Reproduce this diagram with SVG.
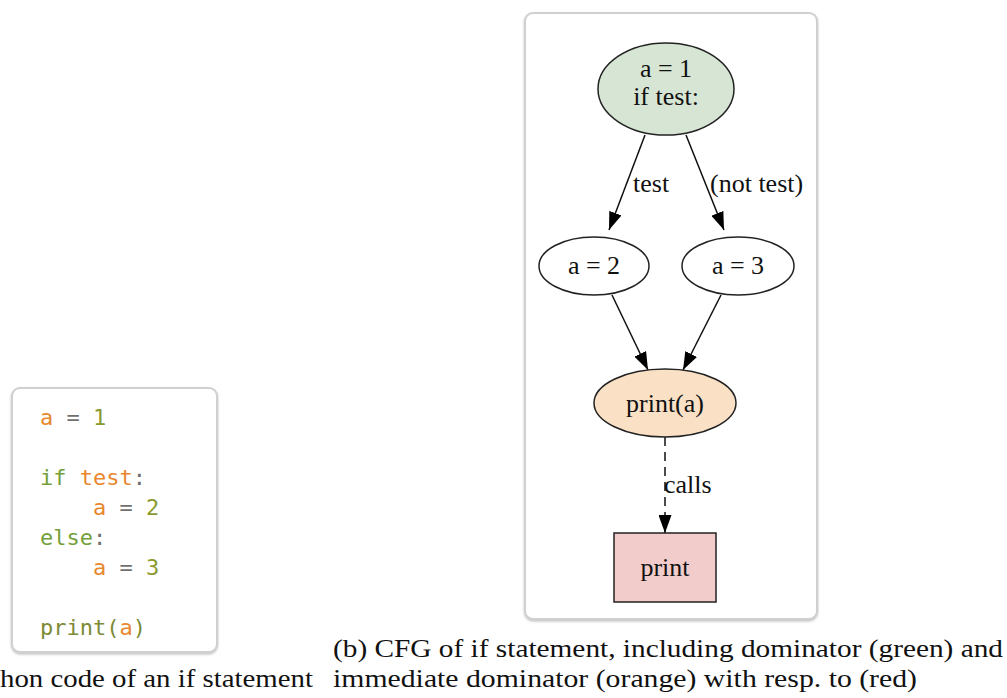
<svg xmlns="http://www.w3.org/2000/svg" width="1007" height="698" viewBox="0 0 1007 698">
<defs>
<style>
.panel{fill:#fff;stroke:#d0d0d0;stroke-width:2}
.code{font-family:"DejaVu Sans Mono",monospace;font-size:22px}
.o{fill:#e8872e}.g{fill:#74a03a}.n{fill:#8b9a2f}.p{fill:#6f6f6f}.f{fill:#7d8a36}
.node{stroke:#222;stroke-width:1.5}
.lbl{font-family:"Liberation Serif",serif;font-size:26px;fill:#111}
.edge{stroke:#111;stroke-width:1.5;fill:none}
.cap{font-family:"Liberation Serif",serif;font-size:25px;fill:#111}
</style>
<marker id="ah" markerWidth="18" markerHeight="13" refX="18" refY="6.5" orient="auto" markerUnits="userSpaceOnUse">
<path d="M0,0 L18,6.5 L0,13 Z" fill="#000"/>
</marker>
<filter id="sh" x="-5%" y="-5%" width="110%" height="110%">
<feDropShadow dx="0" dy="1.5" stdDeviation="1" flood-color="#999" flood-opacity="0.6"/>
</filter>
</defs>
<rect width="1007" height="698" fill="#fff"/>

<g id="code-panel">
<rect class="panel" x="12" y="388" width="205" height="264" rx="8" filter="url(#sh)"/>
<text class="code" x="40" y="425"><tspan class="o">a</tspan><tspan class="p"> = </tspan><tspan class="n">1</tspan></text>
<text class="code" x="40" y="485"><tspan class="g">if</tspan><tspan class="p"> </tspan><tspan class="o">test</tspan><tspan class="p">:</tspan></text>
<text class="code" x="93" y="515"><tspan class="o">a</tspan><tspan class="p"> = </tspan><tspan class="n">2</tspan></text>
<text class="code" x="40" y="545"><tspan class="g">else</tspan><tspan class="p">:</tspan></text>
<text class="code" x="93" y="575"><tspan class="o">a</tspan><tspan class="p"> = </tspan><tspan class="n">3</tspan></text>
<text class="code" x="40" y="635"><tspan class="f">print(</tspan><tspan class="o">a</tspan><tspan class="f">)</tspan></text>
</g>

<g id="cfg-panel">
<rect class="panel" x="525" y="13" width="292" height="606" rx="8" filter="url(#sh)"/>
</g>

<g id="connectors">
<line class="edge" x1="645" y1="135" x2="609" y2="230" marker-end="url(#ah)"/>
<line class="edge" x1="686" y1="135" x2="724" y2="230" marker-end="url(#ah)"/>
<line class="edge" x1="612" y1="295" x2="648" y2="370" marker-end="url(#ah)"/>
<line class="edge" x1="721" y1="295" x2="683" y2="370" marker-end="url(#ah)"/>
<line class="edge" x1="665" y1="437" x2="665" y2="533" stroke-dasharray="9,6" marker-end="url(#ah)"/>
<text class="lbl" x="633" y="192">test</text>
<text class="lbl" x="710" y="192">(not test)</text>
<text class="lbl" x="664" y="493">calls</text>
</g>

<g id="n-entry">
<ellipse class="node" cx="666" cy="89" rx="68" ry="46" fill="#d7e6d4"/>
<text class="lbl" x="666" y="77" text-anchor="middle">a = 1</text>
<text class="lbl" x="666" y="105" text-anchor="middle">if test:</text>
</g>
<g id="n-a2">
<ellipse class="node" cx="594" cy="266" rx="55" ry="29" fill="#fff"/>
<text class="lbl" x="594" y="274" text-anchor="middle">a = 2</text>
</g>
<g id="n-a3">
<ellipse class="node" cx="738" cy="266" rx="56" ry="29" fill="#fff"/>
<text class="lbl" x="738" y="274" text-anchor="middle">a = 3</text>
</g>
<g id="n-print-call">
<ellipse class="node" cx="665" cy="403" rx="71" ry="34" fill="#fae1c6"/>
<text class="lbl" x="665" y="412" text-anchor="middle">print(a)</text>
</g>
<g id="n-print">
<rect class="node" x="614" y="533" width="102" height="69" fill="#f1cccb"/>
<text class="lbl" x="665" y="576" text-anchor="middle">print</text>
</g>

<g id="captions">
<text class="cap" x="333" y="657" textLength="670" lengthAdjust="spacingAndGlyphs">(b) CFG of if statement, including dominator (green) and</text>
<text class="cap" x="0" y="687" textLength="313" lengthAdjust="spacingAndGlyphs">hon code of an if statement</text>
<text class="cap" x="333" y="687" textLength="584" lengthAdjust="spacingAndGlyphs">immediate dominator (orange) with resp. to (red)</text>
</g>
</svg>
